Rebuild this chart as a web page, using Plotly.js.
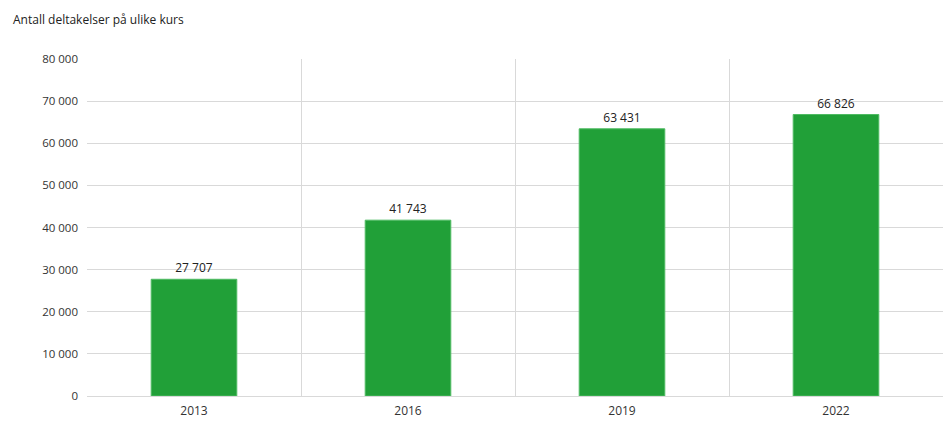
<!DOCTYPE html>
<html>
<head>
<meta charset="utf-8">
<script src="https://cdn.plot.ly/plotly-3.0.1.min.js"></script>
<style>
  html, body { margin: 0; padding: 0; background: #fff; }
  #chart { width: 945px; height: 426px; }
</style>
</head>
<body>
<div id="chart"></div>
<script>
// data
const years = [ '2013', '2016', '2019', '2022' ];
const participations = [ 27707, 41743, 63431, 66826 ];
const yTicks = [ 0, 10000, 20000, 30000, 40000, 50000, 60000, 70000, 80000 ];

// norwegian style: space as thousands separator
const fmt = v => String( v ).replace( /\B(?=(\d{3})+(?!\d))/g, ' ' );

const trace = {
    type: 'bar',
    x: years,
    y: participations,
    text: participations.map( fmt ),
    textposition: 'outside',
    textfont: { size: 12, color: '#222' },
    cliponaxis: false,
    width: 0.4,
    marker: {
        color: '#21a038',
        line: { color: '#4fbb63', width: 1 }
    },
    hoverinfo: 'none'
};

const layout = {
    width: 945,
    height: 426,
    margin: { l: 87, r: 2, t: 59, b: 30 },
    paper_bgcolor: '#fff',
    plot_bgcolor: '#fff',
    font: { family: 'Open Sans, Noto Sans, sans-serif', size: 11, color: '#333' },
    showlegend: false,
    xaxis: {
        type: 'category',
        tickson: 'boundaries',
        showgrid: true,
        gridcolor: '#d9d9d9',
        gridwidth: 1,
        ticks: '',
        showline: true,
        linecolor: '#d9d9d9',
        zeroline: false,
        ticklabelstandoff: 4,
        tickfont: { size: 12, color: '#333' }
    },
    yaxis: {
        range: [ 0, 80000 ],
        tickvals: yTicks,
        ticktext: yTicks.map( fmt ),
        showgrid: true,
        gridcolor: '#d9d9d9',
        zeroline: false,
        showline: false,
        ticks: '',
        ticklabelstandoff: 8,
        tickfont: { size: 11.5, color: '#333' }
    },
    annotations: [ {
        text: 'Antall deltakelser på ulike kurs',
        xref: 'paper', yref: 'paper',
        x: 0, y: 1,
        xshift: -76, yshift: 50,
        xanchor: 'left', yanchor: 'top',
        showarrow: false,
        font: { size: 12, color: '#222' }
    } ]
};

Plotly.newPlot( 'chart', [ trace ], layout, { displayModeBar: false, staticPlot: true } );
</script>
</body>
</html>
